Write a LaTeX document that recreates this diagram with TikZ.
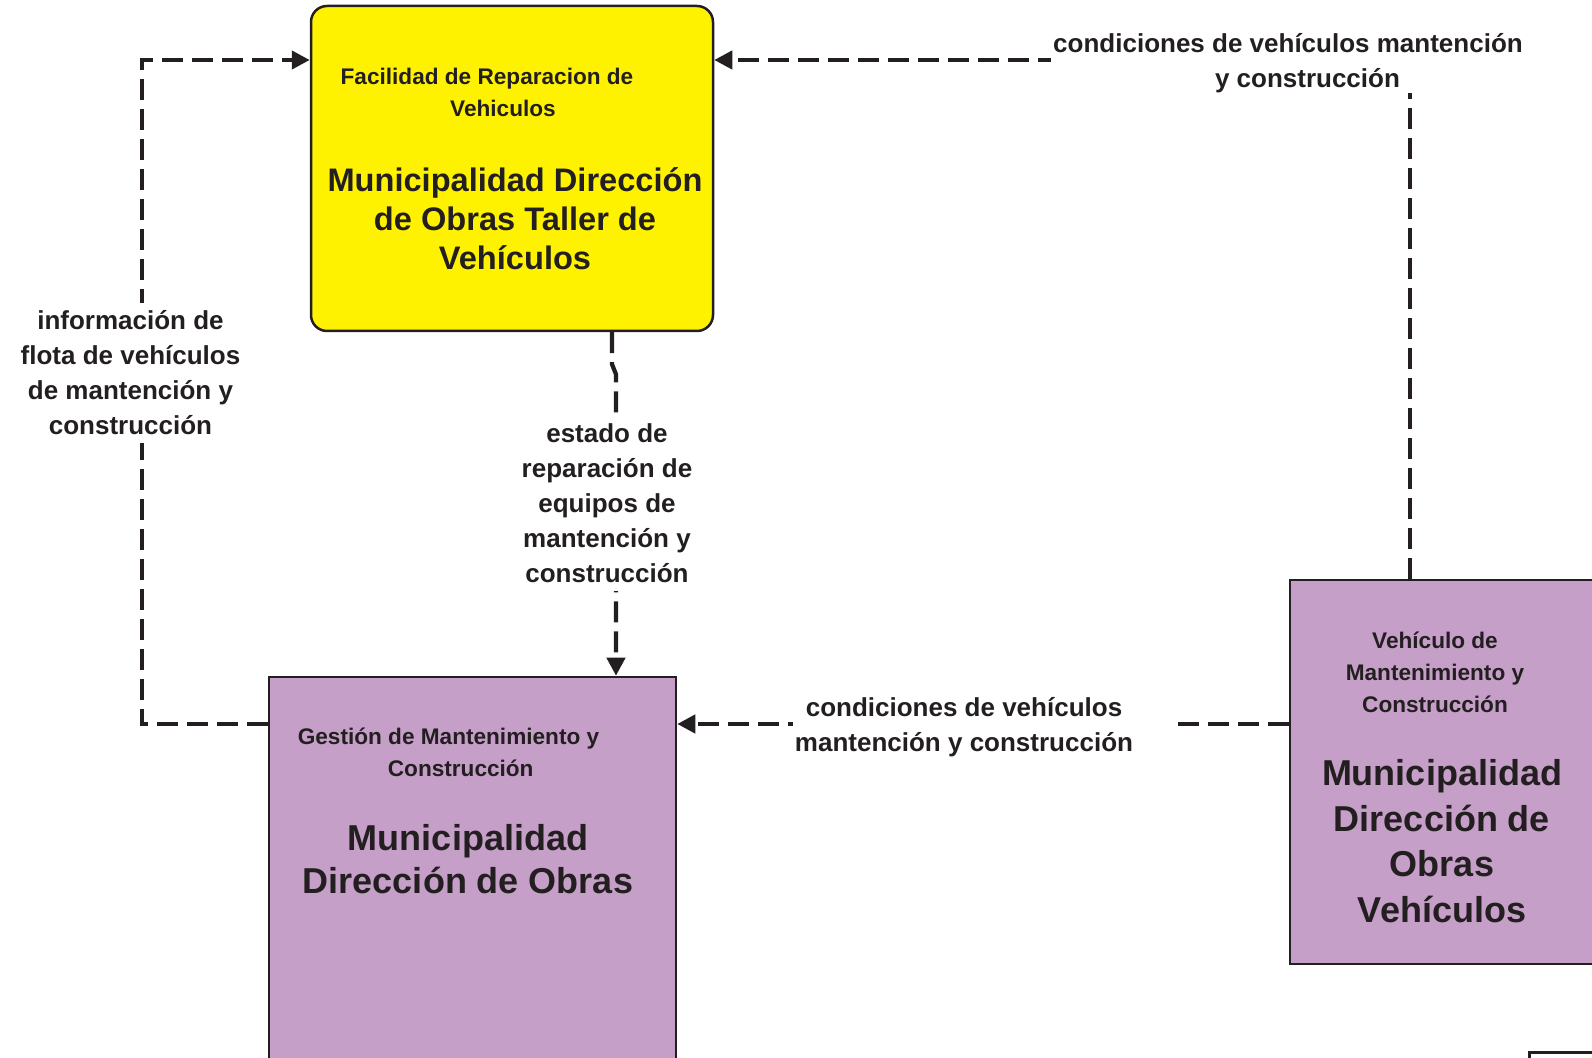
\documentclass[tikz,border=0pt]{standalone}
\usepackage{fontspec}
\setmainfont{Liberation Sans}
\usetikzlibrary{arrows.meta}
\definecolor{amarillo}{HTML}{FFF200}
\definecolor{morado}{HTML}{C59FC8}
\definecolor{tinta}{HTML}{231F20}
\tikzset{
  cajanode/.style = {draw=tinta, line width=1.25pt, inner sep=0pt},
  caja_am/.style = {cajanode, fill=amarillo, rounded corners=8pt},% caja amarilla
  caja_mo/.style = {cajanode, fill=morado},% caja morada
  titulo/.style = {align=center, text=tinta,
    font=\bfseries\fontsize{11.3}{16}\selectfont},% nombre del elemento
  nombre/.style = {align=center, text=tinta,
    font=\bfseries\fontsize{16.3}{19.5}\selectfont},% nombre de la entidad
  etiq/.style = {align=center, fill=white, inner xsep=1pt, inner ysep=4pt,
    text=tinta, font=\bfseries\fontsize{13}{17.5}\selectfont},% etiqueta de flujo
  flujo/.style = {draw=tinta, line width=2.1pt, dash pattern=on 10.5pt off 4.5pt}% flujo punteado
}
\begin{document}
\begin{tikzpicture}[x=0.5pt,y=-0.5pt,>={Triangle[length=9pt,width=9pt]}]
\useasboundingbox (0,0) rectangle (1592,1058);
\clip (0,0) rectangle (1592,1058);
% cajas
\node [caja_am, minimum width=201pt, minimum height=162.5pt] (taller) at (512,168.5) {};
\node [caja_mo, minimum width=203.5pt, minimum height=211.5pt] (gestion) at (472.5,888.5) {};
\node [caja_mo, minimum width=155pt, minimum height=192pt] (vehiculos) at (1445,772) {};
\node [cajanode, fill=white, minimum width=40pt, minimum height=20pt, anchor=north west] (pie) at (1528,1051) {};
% textos
\node [titulo] (tallerT) at (487,92.5) {Facilidad de Reparacion de\\\hspace*{16pt}Vehiculos};
\node [nombre] (tallerN) at (515,219) {Municipalidad Dirección\\de Obras Taller de\\Vehículos};
\node [titulo] (gestionT) at (448.5,752.5) {Gestión de Mantenimiento y\\\hspace*{12.2pt}Construcción};
\node [nombre, font=\bfseries\fontsize{18}{21.8}\selectfont] (gestionN) at (468,859) {Municipalidad\\Dirección de Obras};
\node [titulo] (vehiculosT) at (1435,672) {Vehículo de\\Mantenimiento y\\Construcción};
\node [nombre, font=\bfseries\fontsize{18}{22.75}\selectfont] (vehiculosN) at (1442,841) {Municipalidad\\Dirección de\\Obras\\Vehículos};
% flujos
\draw [flujo,->] ([yshift=82.25pt]gestion.west) -| (142,60) -- ([yshift=54.25pt]taller.west);
\draw [flujo,->] ([xshift=50pt]taller.south) -- ++(0,-16pt) -- ++(2pt,-5pt) -- ([xshift=71.75pt]gestion.north);
\draw [flujo,->] ([yshift=24pt]vehiculos.west) -- ([yshift=82.25pt]gestion.east);
\draw [flujo,->] ([xshift=-17.5pt]vehiculos.north) |- ([yshift=54.25pt]taller.east);
% etiquetas
\node [etiq] (infoL) at (130.5,373) {información de\\flota de vehículos\\de mantención y\\construcción};
\node [etiq] (estadoL) at (607,503) {estado de\\reparación de\\equipos de\\mantención y\\construcción};
\node [etiq] (condL1) at (985,727) {condiciones de vehículos\hspace*{21pt}\\mantención y construcción\hspace*{21pt}};
\node [etiq, inner ysep=0pt] (condL2) at (1288,63) {condiciones de vehículos mantención\\\hspace*{19.5pt}y construcción};
\end{tikzpicture}
\end{document}
